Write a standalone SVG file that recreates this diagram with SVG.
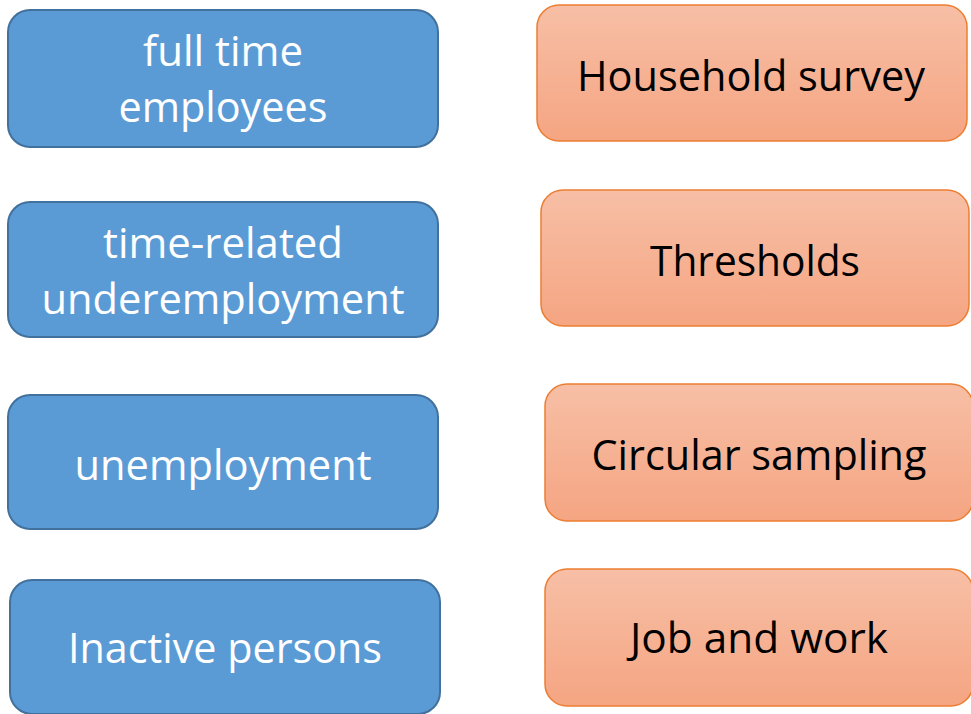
<svg xmlns="http://www.w3.org/2000/svg" width="971" height="714" viewBox="0 0 971 714">
<defs>
<linearGradient id="og" x1="0" y1="0" x2="0" y2="1">
<stop offset="0" stop-color="#f7bfa6"/>
<stop offset="1" stop-color="#f5a582"/>
</linearGradient>
<style>
.blue{fill:#5b9bd5;stroke:#41719c;stroke-width:2}
.orange{fill:url(#og);stroke:#ed7d31;stroke-width:1.5}
.wt{fill:#ffffff;font-family:"Open Sans","Liberation Sans",sans-serif;font-size:42px;text-anchor:middle}
.bt{fill:#000000;font-family:"Open Sans","Liberation Sans",sans-serif;font-size:42px;text-anchor:middle}
</style>
</defs>
<rect width="971" height="714" fill="#ffffff"/>
<g id="connectors"/>
<g id="full-time">
<rect class="blue" x="8" y="10" width="430" height="137" rx="22"/>
<text class="wt" x="223" y="66" textLength="160" lengthAdjust="spacingAndGlyphs">full time</text>
<text class="wt" x="223" y="122" textLength="209" lengthAdjust="spacingAndGlyphs">employees</text>
</g>
<g id="time-related">
<rect class="blue" x="8" y="202" width="430" height="135" rx="22"/>
<text class="wt" x="223" y="258" textLength="240" lengthAdjust="spacingAndGlyphs">time-related</text>
<text class="wt" x="223" y="314" textLength="363" lengthAdjust="spacingAndGlyphs">underemployment</text>
</g>
<g id="unemployment">
<rect class="blue" x="8" y="395" width="430" height="134" rx="22"/>
<text class="wt" x="223" y="480" textLength="297" lengthAdjust="spacingAndGlyphs">unemployment</text>
</g>
<g id="inactive">
<rect class="blue" x="10" y="580" width="430" height="134" rx="22"/>
<text class="wt" x="225" y="663" textLength="314" lengthAdjust="spacingAndGlyphs">Inactive persons</text>
</g>
<g id="household">
<rect class="orange" x="537" y="5" width="430" height="136" rx="22"/>
<text class="bt" x="751" y="91" textLength="348" lengthAdjust="spacingAndGlyphs">Household survey</text>
</g>
<g id="thresholds">
<rect class="orange" x="541" y="190" width="428" height="136" rx="22"/>
<text class="bt" x="755" y="276" textLength="210" lengthAdjust="spacingAndGlyphs">Thresholds</text>
</g>
<g id="circular">
<rect class="orange" x="545" y="384" width="428" height="137" rx="22"/>
<text class="bt" x="759" y="470" textLength="335" lengthAdjust="spacingAndGlyphs">Circular sampling</text>
</g>
<g id="job">
<rect class="orange" x="545" y="569" width="428" height="137" rx="22"/>
<text class="bt" x="759" y="653" textLength="258" lengthAdjust="spacingAndGlyphs">Job and work</text>
</g>
</svg>
